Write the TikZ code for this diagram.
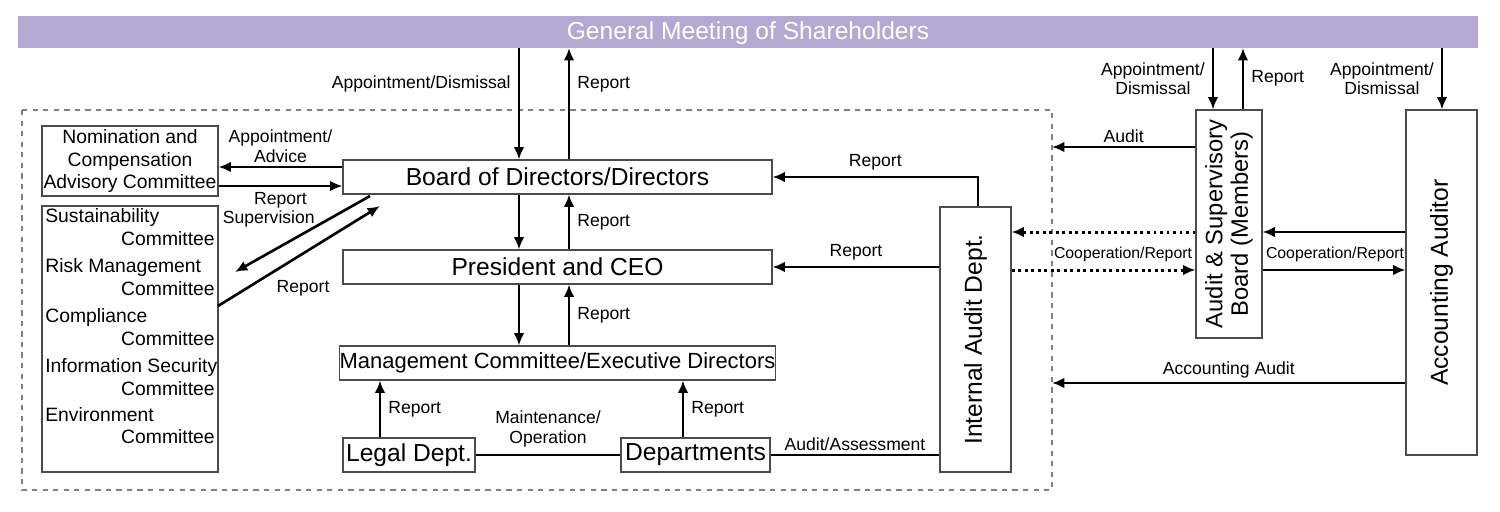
\documentclass[tikz,border=0pt]{standalone}
\usepackage{fontspec}
\setmainfont{Liberation Sans}
\usetikzlibrary{arrows.meta,positioning,calc}

\definecolor{gmsbar}{HTML}{B3A9D3}
\tikzset{
  box/.style={draw=black!70, line width=0.6pt, inner sep=0pt},
  big/.style={font=\fontsize{14}{16}\selectfont},
  mid/.style={font=\fontsize{11}{13}\selectfont},
  lbl/.style={font=\fontsize{10}{11}\selectfont, align=center, inner sep=1pt},
  arr/.style={line width=1.5pt, -{Latex[length=7pt,width=6pt]}},
  ln/.style={line width=1.5pt},
  dotarr/.style={line width=1.7pt, dotted, -{Latex[length=7pt,width=6pt]}},
}

\begin{document}
\begin{tikzpicture}[x=0.02cm,y=-0.02cm]
  \useasboundingbox (0,0) rectangle (1500,511);
  % shareholders bar
  \fill[gmsbar] (18,16) rectangle (1478,48);
  \node[white, font=\fontsize{14}{16}\selectfont] (gms) at (748,33) {General Meeting of Shareholders};
  % dashed frame
  \draw[black!50, dashed, line width=0.6pt] (22,110) rectangle (1052,490);

  % boxes
  \node[box, minimum width=176*0.02cm, minimum height=70*0.02cm, mid, align=center] (nom) at (130,161)
    {Nomination and\\Compensation\\Advisory Committee};
  \draw[box] (42,206) rectangle (218,472);
  \foreach \nm/\y in {Sustainability/217, Risk Management/267, Compliance/317, Information Security/367, Environment/415}{
    \node[mid, anchor=west, inner sep=0pt] at (45,\y) {\nm};
    \node[mid, anchor=east, inner sep=0pt] at (215,\y+22) {Committee};
  }
  \node[box, big, minimum width=429*0.02cm, minimum height=34*0.02cm] (bod) at (557.5,177) {Board of Directors/Directors};
  \node[box, big, minimum width=429*0.02cm, minimum height=34*0.02cm] (ceo) at (557.5,267) {President and CEO};
  \node[box, font=\fontsize{12.5}{14}\selectfont, minimum width=429*0.02cm, minimum height=34*0.02cm] (mgt) at (557.5,363) {Management Committee/Executive Directors};
  \node[box, big, minimum width=132*0.02cm, minimum height=34*0.02cm] (legal) at (409,455) {Legal Dept.};
  \node[box, big, minimum width=149*0.02cm, minimum height=34*0.02cm] (dept) at (695.5,455) {Departments};
  \node[box, big, minimum width=71*0.02cm, minimum height=265*0.02cm] (iad) at (975.5,339.5) {};
  \node[big, rotate=90] at (iad) {Internal Audit Dept.};
  \node[box, big, minimum width=66*0.02cm, minimum height=228*0.02cm] (asb) at (1229,224) {};
  \node[rotate=90, align=center, font=\fontsize{13.5}{14.5}\selectfont] at (asb) {Audit \& Supervisory\\Board (Members)};
  \node[box, big, minimum width=71*0.02cm, minimum height=345*0.02cm] (acc) at (1441.5,282.5) {};
  \node[big, rotate=90] at (acc) {Accounting Auditor};

  % shareholders <-> board
  \draw[arr] (519,48) -- (bod.north -| 519,0) node[lbl, midway, left=3pt, yshift=11pt] {Appointment/Dismissal};
  \draw[arr] (bod.north -| 569,0) -- (569,48) node[lbl, midway, right=3pt, yshift=11pt] {Report};
  % board <-> president <-> management
  \draw[arr] (bod.south -| 519,0) -- (ceo.north -| 519,0);
  \draw[arr] (ceo.north -| 569,0) -- (bod.south -| 569,0) node[lbl, midway, right=3pt] {Report};
  \draw[arr] (ceo.south -| 519,0) -- (mgt.north -| 519,0);
  \draw[arr] (mgt.north -| 569,0) -- (ceo.south -| 569,0) node[lbl, midway, right=3pt] {Report};
  \draw[arr] (legal.north -| 380,0) -- (mgt.south -| 380,0) node[lbl, midway, right=3pt] {Report};
  \draw[arr] (dept.north -| 683,0) -- (mgt.south -| 683,0) node[lbl, midway, right=3pt] {Report};
  \draw[ln] (legal) -- (dept) node[lbl, midway, above=3pt] {Maintenance/\\Operation};
  \draw[ln] (dept) -- (dept -| iad.west) node[lbl, midway, above=1pt] {Audit/Assessment};
  % internal audit reports
  \draw[arr] (iad.north -| 978,0) |- (bod.east) node[lbl, pos=0.75, above=2pt] {Report};
  \draw[arr] (iad.west |- ceo) -- (ceo.east) node[lbl, midway, above=2pt] {Report};
  % nomination committee
  \draw[arr] (bod.west |- 0,167) -- (nom.east |- 0,167) node[lbl, midway, above=1pt] {Appointment/\\Advice};
  \draw[arr] (nom.east |- 0,186) -- (bod.west |- 0,186) node[lbl, midway, below=2pt] {Report};
  % committees
  \draw[arr] (370,196) -- (235,272) node[lbl, pos=0.75, above=13pt] {Supervision};
  \draw[arr] (218,306) -- (380,206) node[lbl, pos=0.3, below right=1pt and 4pt] {Report};
  % audit & supervisory board
  \draw[arr] (1213,48) -- (asb.north -| 1213,0) node[lbl, midway, left=3pt] {Appointment/\\Dismissal};
  \draw[arr] (asb.north -| 1243,0) -- (1243,48) node[lbl, midway, right=3pt] {Report};
  \draw[arr] (1442,48) -- (acc.north -| 1442,0) node[lbl, midway, left=3pt] {Appointment/\\Dismissal};
  \draw[arr] (asb.west |- 0,147) -- (1052,147) node[lbl, midway, above=1pt] {Audit};
  \draw[dotarr] (asb.west |- 0,232) -- (iad.east |- 0,232);
  \draw[dotarr] (iad.east |- 0,270) -- (asb.west |- 0,270);
  \node[lbl, font=\fontsize{9}{10}\selectfont] at (1123,254) {Cooperation/Report};
  \draw[arr] (acc.west |- 0,232) -- (asb.east |- 0,232);
  \draw[arr] (asb.east |- 0,270) -- (acc.west |- 0,270);
  \node[lbl, font=\fontsize{9}{10}\selectfont] at (1335,254) {Cooperation/Report};
  \draw[arr] (acc.west |- 0,383) -- (1052,383) node[lbl, midway, above=1pt] {Accounting Audit};
\end{tikzpicture}
\end{document}
